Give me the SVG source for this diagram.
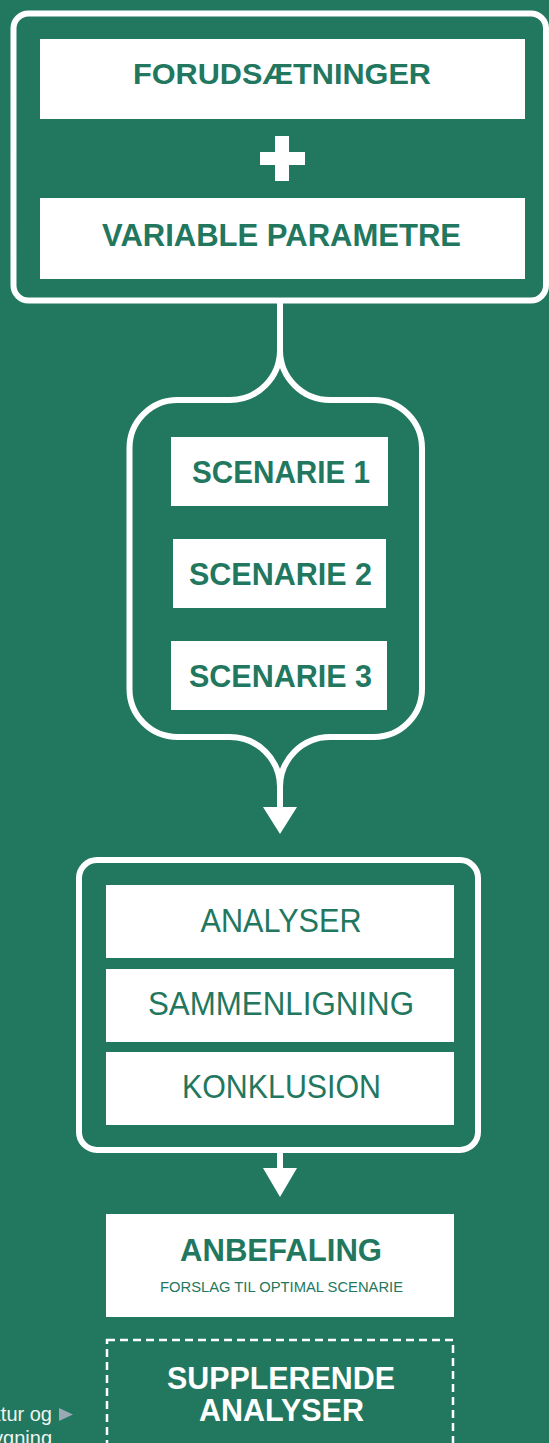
<svg xmlns="http://www.w3.org/2000/svg" width="549" height="1443" viewBox="0 0 549 1443">
  <style>
    .frame { fill: none; stroke: #ffffff; stroke-width: 6; }
    .card { fill: #ffffff; }
    .bold { font-family: "Liberation Sans", Arial, sans-serif; font-weight: 700; text-anchor: middle; fill: #22775f; }
    .light { font-family: "Liberation Sans", Arial, sans-serif; font-weight: 400; text-anchor: middle; fill: #22775f; }
    .inv { font-family: "Liberation Sans", Arial, sans-serif; font-weight: 700; text-anchor: middle; fill: #ffffff; }
    .side { font-family: "Liberation Sans", Arial, sans-serif; font-size: 20px; fill: #eef4f2; text-anchor: end; }
    .line { fill: none; stroke: #ffffff; stroke-width: 6; }
    .head { fill: #ffffff; }
  </style>

  <rect width="549" height="1443" fill="#22775f"/>

  <!-- input stage: assumptions + variable parameters -->
  <g id="inputs">
    <rect class="frame" x="13.5" y="13.5" width="532.5" height="287" rx="15"/>
    <g id="forudsaetninger">
      <rect class="card" x="40" y="39" width="485" height="80"/>
      <text class="bold" x="282" y="84" font-size="30" textLength="298" lengthAdjust="spacingAndGlyphs">FORUDSÆTNINGER</text>
    </g>
    <g id="plus">
      <rect class="card" x="260" y="152" width="45" height="13"/>
      <rect class="card" x="275" y="136" width="14" height="45"/>
    </g>
    <g id="variable-parametre">
      <rect class="card" x="40" y="198" width="485" height="81"/>
      <text class="bold" x="281.5" y="246" font-size="31" textLength="359" lengthAdjust="spacingAndGlyphs">VARIABLE PARAMETRE</text>
    </g>
  </g>

  <!-- scenario group -->
  <g id="scenarier">
    <path class="frame" d="M230,400 H177.5 A48,48 0 0 0 129.5,448 V689 A48,48 0 0 0 177.5,737 H230 M330,737 H374 A48,48 0 0 0 422,689 V448 A48,48 0 0 0 374,400 H330"/>
    <g id="scenarie-1">
      <rect class="card" x="171" y="437" width="217" height="69"/>
      <text class="bold" x="281" y="483" font-size="32" textLength="178" lengthAdjust="spacingAndGlyphs">SCENARIE 1</text>
    </g>
    <g id="scenarie-2">
      <rect class="card" x="173" y="539" width="213" height="69"/>
      <text class="bold" x="280.5" y="585" font-size="32" textLength="183" lengthAdjust="spacingAndGlyphs">SCENARIE 2</text>
    </g>
    <g id="scenarie-3">
      <rect class="card" x="171" y="641" width="216" height="69"/>
      <text class="bold" x="280.5" y="687" font-size="32" textLength="183" lengthAdjust="spacingAndGlyphs">SCENARIE 3</text>
    </g>
  </g>

  <!-- analysis stage -->
  <g id="analyse">
    <rect class="frame" x="79" y="860" width="399" height="290" rx="18"/>
    <g id="analyser">
      <rect class="card" x="106" y="885" width="348" height="73"/>
      <text class="light" x="281" y="932" font-size="33" textLength="161" lengthAdjust="spacingAndGlyphs">ANALYSER</text>
    </g>
    <g id="sammenligning">
      <rect class="card" x="106" y="969" width="348" height="73"/>
      <text class="light" x="281" y="1015" font-size="33" textLength="266" lengthAdjust="spacingAndGlyphs">SAMMENLIGNING</text>
    </g>
    <g id="konklusion">
      <rect class="card" x="106" y="1052" width="348" height="73"/>
      <text class="light" x="281.5" y="1098" font-size="33" textLength="199" lengthAdjust="spacingAndGlyphs">KONKLUSION</text>
    </g>
  </g>

  <!-- recommendation -->
  <g id="anbefaling">
    <rect class="card" x="106" y="1214" width="348" height="103"/>
    <text class="bold" x="281" y="1261" font-size="32" textLength="202" lengthAdjust="spacingAndGlyphs">ANBEFALING</text>
    <text class="light" x="281.5" y="1292" font-size="15" textLength="243" lengthAdjust="spacingAndGlyphs">FORSLAG TIL OPTIMAL SCENARIE</text>
  </g>

  <!-- optional extra analyses -->
  <g id="supplerende">
    <rect x="107" y="1340" width="346" height="150" fill="none" stroke="#ffffff" stroke-width="2.5" stroke-dasharray="8 5"/>
    <text class="inv" x="281" y="1389" font-size="31" textLength="228" lengthAdjust="spacingAndGlyphs">SUPPLERENDE</text>
    <text class="inv" x="281.5" y="1421" font-size="31" textLength="165" lengthAdjust="spacingAndGlyphs">ANALYSER</text>
  </g>

  <!-- side note running in from the left -->
  <g id="sidenote">
    <text class="side" x="52" y="1421">ktur og</text>
    <text class="side" x="52" y="1445">ygning</text>
    <polygon points="59,1408 73,1414.5 59,1421" fill="#9aaab4"/>
  </g>

  <!-- connectors -->
  <g id="connectors">
    <path class="line" d="M280,300 V350 A50,50 0 0 1 230,400 M280,350 A50,50 0 0 0 330,400"/>
    <path class="line" d="M230,737 A50,50 0 0 1 280,787 V808 M330,737 A50,50 0 0 0 280,787"/>
    <polygon class="head" points="263,807 297,807 280,834"/>
    <path class="line" d="M280,1153 V1169"/>
    <polygon class="head" points="263,1168 297,1168 280,1197"/>
  </g>
</svg>
